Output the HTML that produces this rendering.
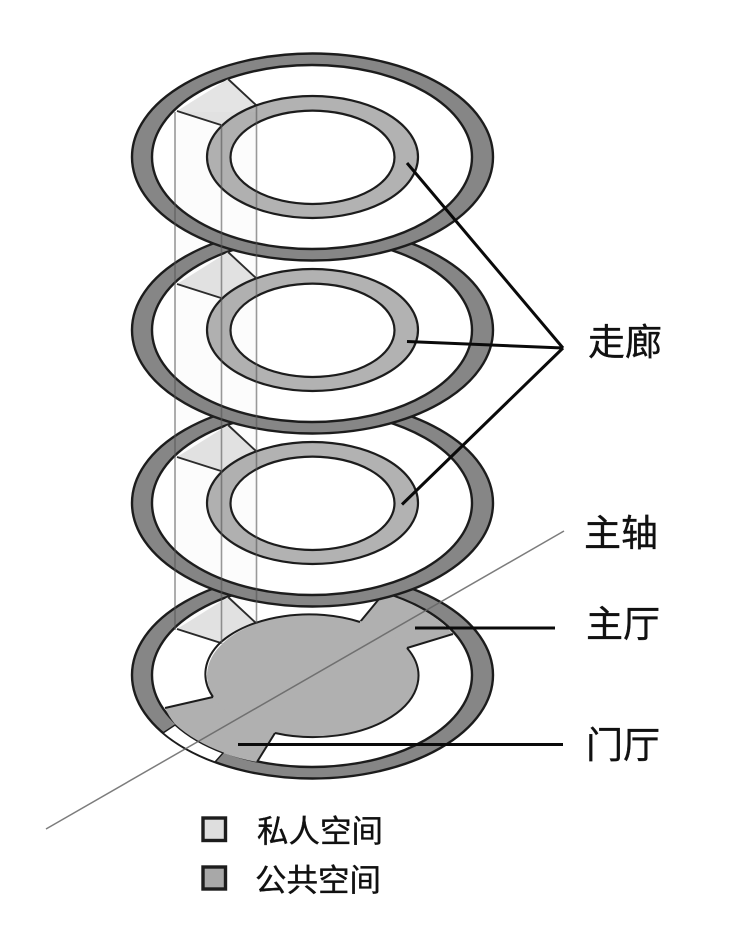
<!DOCTYPE html>
<html><head><meta charset="utf-8"><style>
html,body{margin:0;padding:0;background:#fff}
svg{display:block}
text{font-family:"Liberation Sans","Noto Sans CJK SC",sans-serif;fill:#111;stroke:#111;stroke-width:.35px}
</style></head><body>
<svg width="734" height="925" viewBox="0 0 734 925" xmlns="http://www.w3.org/2000/svg">
<rect width="734" height="925" fill="#fff"/>
<defs>
<g id="disc">
<ellipse cx="312.5" cy="157" rx="180.5" ry="103.5" fill="#868686" stroke="#1c1c1c" stroke-width="2.4"/>
<ellipse cx="312" cy="157" rx="160" ry="92" fill="#fff" stroke="#1c1c1c" stroke-width="2.4"/>
<polygon points="177,111 228,79 257,106 221,125" fill="#e4e4e4"/>
<path d="M177 111L221 125M228 79L257 106" stroke="#2a2a2a" stroke-width="1.9" fill="none"/>
</g>
<g id="corr">
<ellipse cx="312.5" cy="157" rx="105.5" ry="61" fill="#b2b2b2" stroke="#1c1c1c" stroke-width="2.2"/>
<ellipse cx="312.5" cy="157.3" rx="82" ry="46.7" fill="#fff" stroke="#1c1c1c" stroke-width="2.2"/>
</g>
</defs>

<!-- bottom disc -->
<g transform="translate(0,518)"><use href="#disc"/></g>
<path d="M360 622L379 599L393 596.5A160 92 0 0 1 453 634L407 648L275 733L257 762A160 92 0 0 1 223 753A160 92 0 0 1 175 724A160 92 0 0 1 165 708L213 697Z" fill="#b0b0b0"/>
<path d="M360 622L379 599M453 634L407 648M165 708L213 697M275 733L257 762" stroke="#1c1c1c" stroke-width="2" fill="none"/>
<ellipse cx="312.5" cy="675.5" rx="105.5" ry="61.3" fill="#b0b0b0"/>
<path d="M213 697A105.5 61.3 0 0 1 221 642A105.5 61.3 0 0 1 360 622M407 648A105.5 61.3 0 0 1 275 733" fill="none" stroke="#1c1c1c" stroke-width="2"/>
<path d="M163 733A181 104 0 0 0 215 762L223 753A160 92 0 0 1 175 725Z" fill="#fff" stroke="#1c1c1c" stroke-width="1.4"/>

<!-- third -->
<g transform="translate(0,346)"><use href="#disc"/><use href="#corr"/></g>
<!-- second -->
<g transform="translate(0,173)"><use href="#disc"/><use href="#corr"/></g>
<!-- top -->
<use href="#disc"/><use href="#corr"/>

<!-- vertical projection -->
<rect x="175" y="112" width="81" height="518" fill="#888" opacity="0.025"/>
<path d="M175 112V630M221.5 125V644M256.5 106V624" stroke="#555" stroke-width="1.6" opacity="0.6" fill="none"/>

<!-- axis -->
<line x1="46" y1="829" x2="564" y2="531" stroke="#666" stroke-width="1.5" opacity="0.85"/>

<!-- leaders -->
<path d="M407 163L563 348M407 341.5L563 348M402 504.5L563 348" stroke="#0a0a0a" stroke-width="3" fill="none"/>
<path d="M415 628H555M238 744.5H563" stroke="#0a0a0a" stroke-width="3" fill="none"/>

<!-- labels -->
<text x="588" y="355" font-size="37">走廊</text>
<text x="584" y="546" font-size="37">主轴</text>
<text x="586" y="637" font-size="37">主厅</text>
<text x="586" y="758" font-size="37">门厅</text>

<!-- legend -->
<rect x="203" y="818" width="22.5" height="22.5" fill="#dedede" stroke="#1c1c1c" stroke-width="3.4"/>
<rect x="203" y="867" width="22.5" height="22" fill="#a8a8a8" stroke="#1c1c1c" stroke-width="3.4"/>
<text x="257" y="842" font-size="31.5">私人空间</text>
<text x="255" y="891" font-size="31.5">公共空间</text>
</svg>
</body></html>
